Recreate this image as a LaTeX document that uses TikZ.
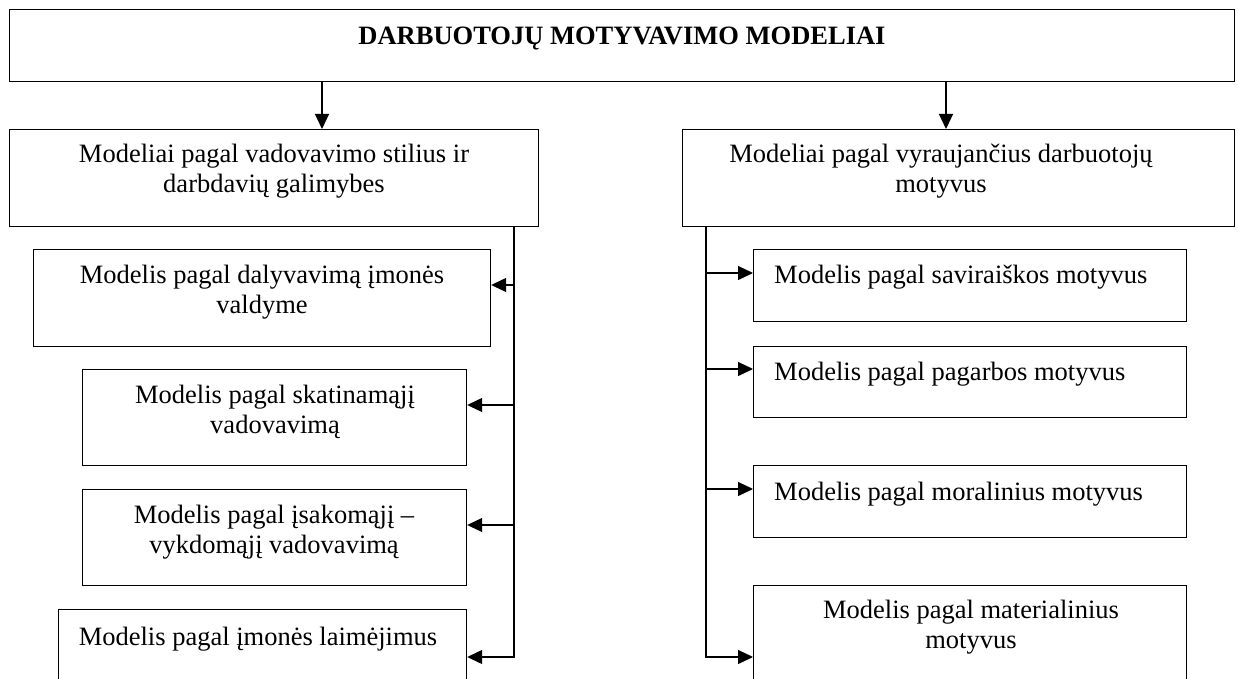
\documentclass[tikz,border=0pt]{standalone}
\usepackage{fontspec}
\setmainfont{Liberation Serif}
\usetikzlibrary{arrows.meta}
\begin{document}
\begin{tikzpicture}[x=1pt,y=-1pt,
  box/.style={draw, line width=1.2pt, inner sep=0pt, anchor=north west},
  txt/.style={font=\fontsize{26.5}{30}\selectfont, inner sep=0pt, align=center, anchor=base},
  ltxt/.style={font=\fontsize{26.5}{30}\selectfont, inner sep=0pt, anchor=base west},
  conn/.style={line width=1.2pt},
  arr/.style={line width=1.2pt, -{Triangle[length=15pt,width=14pt]}}]
\clip (0,0) rectangle (1238,679);
\fill[white] (0,0) rectangle (1238,679);
% boxes
\node[box, minimum width=1225pt, minimum height=72pt] (top) at (9,9) {};
\node[box, minimum width=529pt, minimum height=97pt] (L) at (9,129) {};
\node[box, minimum width=552pt, minimum height=97pt] (R) at (682,129) {};
\node[box, minimum width=457pt, minimum height=97pt] (L1) at (33,249) {};
\node[box, minimum width=384pt, minimum height=96pt] (L2) at (82,369) {};
\node[box, minimum width=384pt, minimum height=96pt] (L3) at (82,489) {};
\node[box, minimum width=408pt, minimum height=100pt] (L4) at (58,609) {};
\node[box, minimum width=433pt, minimum height=72pt] (R1) at (753,249) {};
\node[box, minimum width=433pt, minimum height=71pt] (R2) at (753,346) {};
\node[box, minimum width=433pt, minimum height=72pt] (R3) at (753,465) {};
\node[box, minimum width=433pt, minimum height=110pt] (R4) at (753,585) {};
% texts (two-line nodes: base = baseline of the last line)
\node[txt] (ttop) at (622,45) {\bfseries DARBUOTOJŲ MOTYVAVIMO MODELIAI};
\node[txt] (tL) at (274,193) {Modeliai pagal vadovavimo stilius ir\\darbdavių galimybes};
\node[txt] (tR) at (941,193) {Modeliai pagal vyraujančius darbuotojų\\motyvus};
\node[txt] (tL1) at (262,313) {Modelis pagal dalyvavimą įmonės\\valdyme};
\node[txt] (tL2) at (275,433) {Modelis pagal skatinamąjį\\vadovavimą};
\node[txt] (tL3) at (274,553) {Modelis pagal įsakomąjį –\\vykdomąjį vadovavimą};
\node[txt] (tL4) at (258,645) {Modelis pagal įmonės laimėjimus};
\node[ltxt] (tR1) at (774,283) {Modelis pagal saviraiškos motyvus};
\node[ltxt] (tR2) at (774,380) {Modelis pagal pagarbos motyvus};
\node[ltxt] (tR3) at (774,500) {Modelis pagal moralinius motyvus};
\node[txt] (tR4) at (971,648) {Modelis pagal materialinius\\motyvus};
% connector coordinates
\coordinate (aL) at (322,0);
\coordinate (aR) at (946,0);
\coordinate (busL) at (514,0);
\coordinate (busR) at (706,0);
% top arrows
\draw[arr] (top.south -| aL) -- (L.north -| aL);
\draw[arr] (top.south -| aR) -- (R.north -| aR);
% left bus
\draw[arr] (L.south -| busL) |- (L4.east |- 0,657);
\draw[arr] (busL |- 0,285) -- (L1.east |- 0,285);
\draw[arr] (busL |- 0,405) -- (L2.east |- 0,405);
\draw[arr] (busL |- 0,525) -- (L3.east |- 0,525);
% right bus
\draw[arr] (R.south -| busR) |- (R4.west |- 0,657);
\draw[arr] (busR |- 0,273) -- (R1.west |- 0,273);
\draw[arr] (busR |- 0,369) -- (R2.west |- 0,369);
\draw[arr] (busR |- 0,489) -- (R3.west |- 0,489);
\end{tikzpicture}
\end{document}
